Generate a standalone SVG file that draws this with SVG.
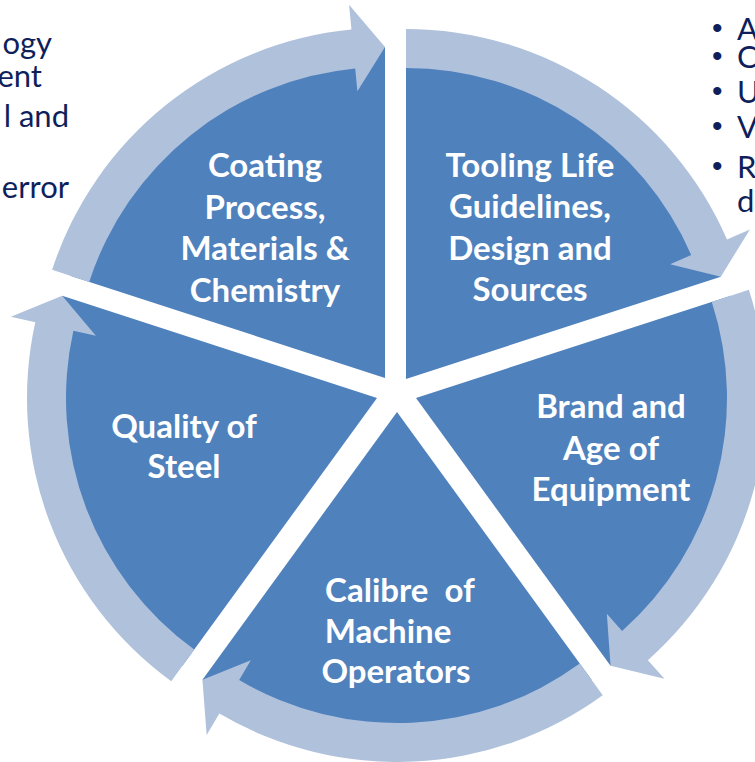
<svg xmlns="http://www.w3.org/2000/svg" width="755" height="762" viewBox="0 0 755 762">
<style>
.wedge{fill:#4F81BD}
.ring{fill:#B0C1DC}
.lbl{font-family:Lato,"Liberation Sans",sans-serif;font-weight:700;font-size:33px;fill:#FFFFFF;text-anchor:middle}
.side{font-family:Lato,"Liberation Sans",sans-serif;font-size:31px;fill:#0F1F5C}
.bul{font-family:"Liberation Sans",sans-serif;font-size:30px;fill:#0F1F5C}
</style>
<rect width="755" height="762" fill="#FFFFFF"/>
<g id="side-text-left" class="side" text-anchor="end">
<text x="52" y="54">ogy</text>
<text x="42" y="87">ent</text>
<text x="69" y="127">l and</text>
<text x="69" y="198">error</text>
</g>
<g id="side-text-right">
<text class="bul" x="712" y="38">•</text><text class="side" x="737" y="40">A</text>
<text class="bul" x="712" y="66">•</text><text class="side" x="737" y="68">C</text>
<text class="bul" x="712" y="101">•</text><text class="side" x="737" y="103">U</text>
<text class="bul" x="712" y="136">•</text><text class="side" x="737" y="138">V</text>
<text class="bul" x="712" y="176">•</text><text class="side" x="737" y="178">R</text>
<text class="side" x="737" y="212">d</text>
</g>
<g id="node-coating">
<path class="wedge" d="M385,378 L70.2,275.71 A331,331 0 0 1 385,47 Z"/>
<text class="lbl"><tspan x="265" y="177">Coating</tspan><tspan x="265" y="219">Process,</tspan><tspan x="265" y="260">Materials &amp;</tspan><tspan x="265" y="302">Chemistry</tspan></text>
</g>
<g id="node-tooling">
<path class="wedge" d="M406,379 L406,48 A331,331 0 0 1 720.8,276.71 Z"/>
<text class="lbl"><tspan x="530" y="177">Tooling Life</tspan><tspan x="530" y="218">Guidelines,</tspan><tspan x="530" y="260">Design and</tspan><tspan x="530" y="301">Sources</tspan></text>
</g>
<g id="node-brand">
<path class="wedge" d="M416,398 L730.8,295.71 A331,331 0 0 1 610.56,665.79 Z"/>
<text class="lbl"><tspan x="611" y="418">Brand and</tspan><tspan x="611" y="460">Age of</tspan><tspan x="611" y="501">Equipment</tspan></text>
</g>
<g id="node-calibre">
<path class="wedge" d="M397,412 L591.56,679.79 A331,331 0 0 1 202.44,679.79 Z"/>
<text class="lbl" xml:space="preserve"><tspan x="400" y="602">Calibre  of</tspan><tspan x="388" y="643">Machine</tspan><tspan x="396" y="683">Operators</tspan></text>
</g>
<g id="node-quality">
<path class="wedge" d="M377,398 L182.44,665.79 A331,331 0 0 1 62.2,295.71 Z"/>
<text class="lbl"><tspan x="184" y="438">Quality of</tspan><tspan x="184" y="478">Steel</tspan></text>
</g>
<g id="connectors">
<path class="ring" d="M89.22,281.89 A311,311 0 0 1 355.19,68.43 L357.4,91.32 L385,47 L349.06,4.72 L351.45,29.61 A350,350 0 0 0 52.13,269.84 Z"/>
<path class="ring" d="M406,68 A311,311 0 0 1 691.21,254.99 L670.11,264.16 L720.8,276.71 L749.9,229.47 L726.97,239.44 A350,350 0 0 0 406,29 Z"/>
<path class="ring" d="M711.78,301.89 A311,311 0 0 1 622.07,630.93 L606.83,613.7 L610.56,665.79 L664.48,678.86 L647.92,660.14 A350,350 0 0 0 748.87,289.84 Z"/>
<path class="ring" d="M579.8,663.61 A311,311 0 0 1 239.15,679.97 L250.83,660.15 L202.44,679.79 L206.67,735.11 L219.36,713.57 A350,350 0 0 0 602.73,695.16 Z"/>
<path class="ring" d="M194.2,649.61 A311,311 0 0 1 73.37,330.69 L95.83,335.67 L62.2,295.71 L10.89,316.83 L35.29,322.25 A350,350 0 0 0 171.27,681.16 Z"/>
</g>
</svg>
